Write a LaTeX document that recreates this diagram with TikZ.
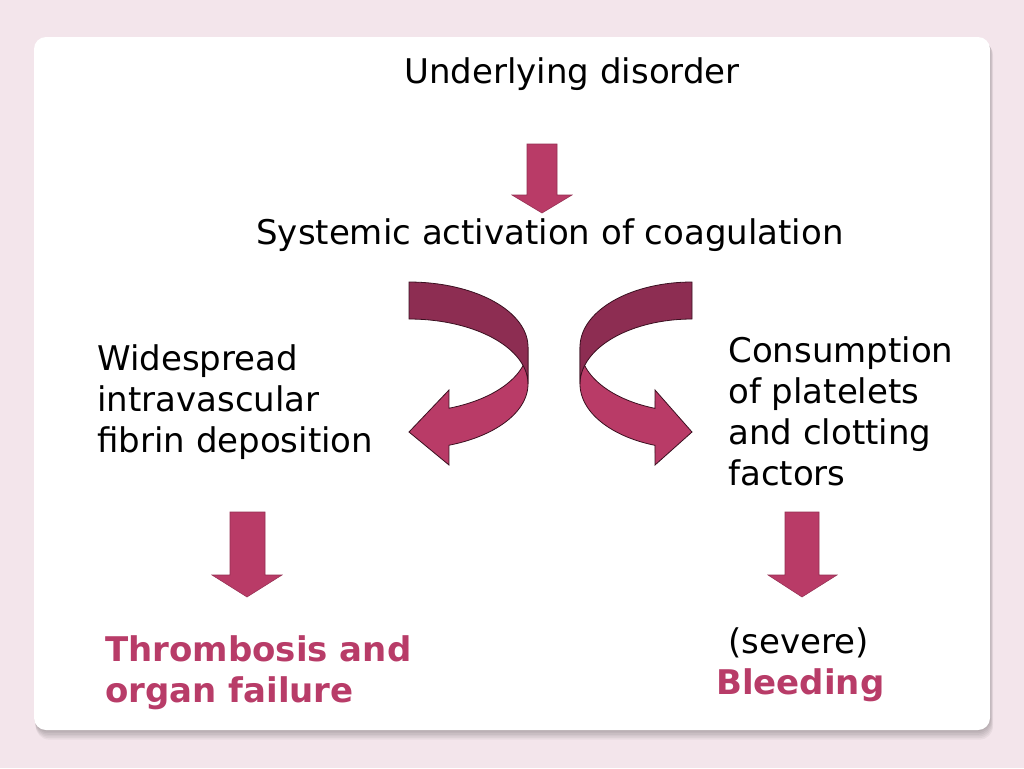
\documentclass[tikz,border=0pt]{standalone}
\usepackage{fontspec}
\setmainfont{DejaVu Sans}
\definecolor{bgpink}{HTML}{F3E5EB}
\definecolor{arrowfill}{HTML}{B93B67}
\definecolor{arrowdark}{HTML}{8D2D52}
\definecolor{arrowline}{HTML}{3A1020}
\definecolor{accent}{HTML}{B83C68}
\tikzset{
  txt/.style={inner sep=0pt, font=\fontsize{25.5}{30.75}\selectfont, align=left, text=black},
  boldtxt/.style={txt, font=\fontsize{25.5}{30.75}\selectfont\bfseries, text=accent},
  straightarrow/.style={fill=arrowfill, draw=arrowfill!80!black, line width=0.4pt, line join=miter},
  frontband/.style={fill=arrowfill, draw=arrowline, line width=0.6pt, line join=miter},
  backband/.style={fill=arrowdark, draw=arrowline, line width=0.6pt, line join=miter},
}
\begin{document}
\begin{tikzpicture}[x=0.75pt, y=-0.75pt]
\useasboundingbox (0,0) rectangle (1024,768);
\fill[bgpink] (0,0) rectangle (1024,768);
% panel shadow
\foreach \i in {1,...,6}{
  \fill[black, opacity=0.045, rounded corners=10pt] (34+0.3*\i,37+0.8*\i) rectangle (990+0.5*\i,730+1.6*\i);
}
\fill[white, rounded corners=9pt] (34,37) rectangle (990,730);

% straight arrows
\draw[straightarrow] (527,144) -- (557,144) -- (557,195) -- (572,195) -- (542,213) -- (512,195) -- (527,195) -- cycle;
\draw[straightarrow] (230,512) -- (265,512) -- (265,575) -- (282,575) -- (247,597) -- (212,575) -- (230,575) -- cycle;
\draw[straightarrow] (785,512) -- (819,512) -- (819,575) -- (837,575) -- (802,597) -- (768,575) -- (785,575) -- cycle;

% left curved arrow: centre x 409, rx 119, ry 65; outer ellipse cy 347, inner cy 384
\draw[frontband] plot[domain=0:-70.4, samples=40] ({409+119*cos(\x)},{347-65*sin(\x)})
  -- (449,390) -- (409,432) -- (449,465)
  -- plot[domain=-70.4:0, samples=40] ({409+119*cos(\x)},{384-65*sin(\x)}) -- cycle;
\draw[backband] plot[domain=90:0, samples=40] ({409+119*cos(\x)},{347-65*sin(\x)})
  -- plot[domain=0:90, samples=40] ({409+119*cos(\x)},{384-65*sin(\x)}) -- cycle;

% right curved arrow: centre x 692, rx 112
\draw[frontband] plot[domain=0:-70.7, samples=40] ({692-112*cos(\x)},{347-65*sin(\x)})
  -- (655,390) -- (692,432) -- (655,465)
  -- plot[domain=-70.7:0, samples=40] ({692-112*cos(\x)},{384-65*sin(\x)}) -- cycle;
\draw[backband] plot[domain=90:0, samples=40] ({692-112*cos(\x)},{347-65*sin(\x)})
  -- plot[domain=0:90, samples=40] ({692-112*cos(\x)},{384-65*sin(\x)}) -- cycle;

% texts (multi-line nodes: base anchor = baseline of last line)
\node[txt, anchor=base] (under) at (572,83) {Underlying disorder};
\node[txt, anchor=base] (sys) at (550,244) {Systemic activation of coagulation};
\node[txt, anchor=base west] (wide) at (97,452) {Widespread\\intravascular\\fibrin deposition};
\node[txt, anchor=base west] (cons) at (728,485) {Consumption\\of platelets\\and clotting\\factors};
\node[boldtxt, anchor=base west] (thromb) at (105,702) {Thrombosis and\\organ failure};
\node[txt, anchor=base west] (severe) at (728,653) {(severe)};
\node[boldtxt, anchor=base west] (bleed) at (716,694) {Bleeding};
\end{tikzpicture}
\end{document}
